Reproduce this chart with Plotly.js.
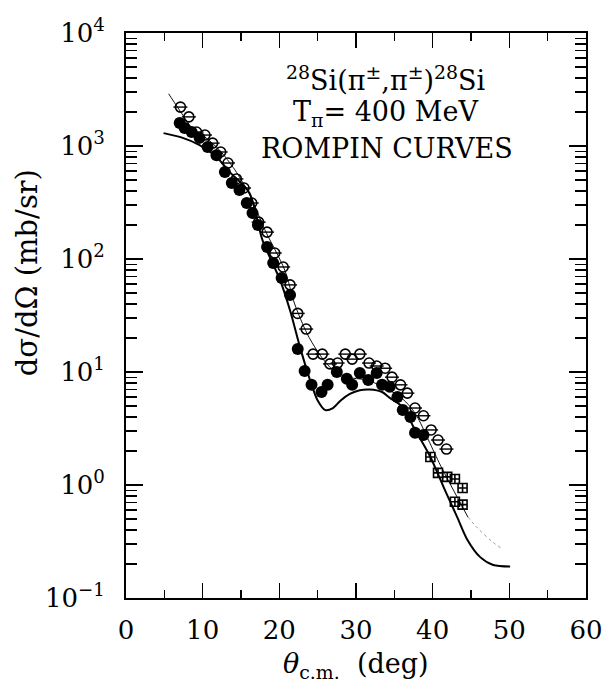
<!DOCTYPE html>
<html>
<head>
<meta charset="utf-8">
<script src="https://cdn.plot.ly/plotly-3.0.1.min.js"></script>
<style>html,body{margin:0;padding:0;background:#fff;}</style>
</head>
<body>
<div id="chart" style="width:608px;height:692px;"></div>
<script>
// Filled circles
const filledX = [7.0, 7.65, 8.56, 9.6, 10.65, 11.8, 12.9, 13.8, 14.8, 15.75, 16.5, 17.2, 18.4, 19.2, 20.3, 21.4, 22.4, 23.3, 24.2, 25.5, 26.3, 27.5, 28.8, 29.5, 30.5, 31.6, 32.7, 33.4, 34.4, 35.4, 36.1, 37.1, 37.7, 38.8];
const filledY = [1600, 1440, 1330, 1180, 980, 830, 590, 471, 408, 313, 255, 200, 128, 92, 68, 48, 16, 10.2, 7.7, 6.65, 7.7, 10, 8.7, 7.7, 9.8, 8.5, 9.8, 7.7, 7.4, 6.0, 4.6, 4.0, 2.9, 2.77];
// Open circles
const openX = [7.1, 8.2, 9.2, 10.3, 11.3, 12.35, 13.3, 14.4, 15.4, 16.4, 17.3, 18.4, 19.4, 20.5, 21.4, 22.4, 23.5, 24.4, 25.6, 26.6, 27.6, 28.6, 29.5, 30.5, 31.7, 32.7, 33.8, 34.7, 35.8, 36.7, 37.7, 38.8, 39.8, 40.7, 41.8];
const openY = [2210, 1810, 1330, 1250, 1060, 885, 707, 511, 425, 313, 212, 173, 113, 85, 59, 33, 24, 14.4, 14.4, 11.8, 12.0, 14.4, 13.0, 14.4, 12.0, 11.3, 10.8, 9.0, 7.7, 6.5, 4.8, 4.1, 3.07, 2.5, 2.08];
// Squares
const squareX = [39.7, 40.7, 41.9, 42.9, 43.9, 42.9, 43.9];
const squareY = [1.77, 1.28, 1.18, 1.13, 0.94, 0.71, 0.67];
// Solid (thick) ROMPIN curve
const solidX = [4.9, 7.4, 9.6, 11.8, 13.5, 16.1, 17.8, 20.1, 21.4, 22.7, 24.0, 25.0, 26.0, 27.0, 28.0, 29.2, 30.5, 31.8, 33.4, 34.4, 36.1, 37.5, 39.7, 41.6, 43.2, 44.5, 46.2, 47.9, 50.1];
const solidY = [1300, 1180, 1020, 800, 590, 384, 147, 65, 35, 16.6, 8.5, 5.6, 4.6, 4.8, 5.6, 6.4, 6.9, 7.0, 6.65, 5.9, 4.9, 3.26, 1.77, 0.90, 0.52, 0.33, 0.23, 0.196, 0.19];
// Thin ROMPIN curve
const thinX = [5.56, 6.1, 7.25, 8.6, 10.3, 12.2, 14.2, 16.1, 18.1, 20.7, 22.0, 23.6, 24.9, 25.7, 27.0, 28.8, 31.4, 33.5, 35.8, 37.1, 38.0, 41.0, 44.6];
const thinY = [2900, 2550, 1950, 1450, 1200, 920, 615, 375, 182, 80, 40, 22, 15.5, 13.0, 10.4, 9.0, 8.5, 7.4, 6.0, 4.9, 4.0, 1.5, 0.52];
const thinTailX = [44.6, 45.8, 47.9, 49.2];
const thinTailY = [0.52, 0.42, 0.31, 0.27];
// Axis ticks
const yTickVals = [0.1, 1, 10, 100, 1000, 10000];
const yTickText = ['10<sup>−1</sup>', '10<sup>0</sup>', '10<sup>1</sup>', '10<sup>2</sup>', '10<sup>3</sup>', '10<sup>4</sup>'];
const xTickVals = [0, 10, 20, 30, 40, 50, 60];

const FONT = 'DejaVu Serif, Liberation Serif, serif';

const traces = [
  {x: thinX, y: thinY, mode: 'lines', line: {color: '#111', width: 1, shape: 'spline', smoothing: 0.8}, hoverinfo: 'skip'},
  {x: thinTailX, y: thinTailY, mode: 'lines', line: {color: '#999', width: 1, dash: 'dot', shape: 'spline'}, hoverinfo: 'skip'},
  {x: solidX, y: solidY, mode: 'lines', line: {color: '#000', width: 2, shape: 'spline', smoothing: 0.8}, hoverinfo: 'skip'},
  {x: squareX, y: squareY, mode: 'markers', marker: {symbol: 'square-cross-open', size: 9, color: '#000', line: {width: 1.6, color: '#000'}}},
  {x: openX, y: openY, mode: 'markers', marker: {symbol: 'circle-open', size: 10, color: '#000', line: {width: 1.6, color: '#000'}}},
  {x: openX, y: openY, mode: 'markers', marker: {symbol: 'line-ew', size: 10, color: '#000', line: {width: 1.4, color: '#000'}}},
  {x: filledX, y: filledY, mode: 'markers', marker: {symbol: 'circle', size: 12, color: '#000'}}
];

const layout = {
  width: 608, height: 692,
  margin: {l: 126, r: 22, t: 33, b: 94},
  paper_bgcolor: '#fff', plot_bgcolor: '#fff',
  showlegend: false,
  font: {family: FONT, size: 26, color: '#000'},
  xaxis: {
    range: [0, 60], tickmode: 'array', tickvals: xTickVals,
    ticks: 'inside', ticklen: 15, tickwidth: 1.5, tickcolor: '#000',
    minor: {dtick: 5, ticks: 'inside', ticklen: 8, tickwidth: 1.2, tickcolor: '#000', showgrid: false},
    showline: true, linewidth: 2, linecolor: '#000', mirror: 'ticks',
    showgrid: false, zeroline: false,
    tickfont: {family: FONT, size: 26, color: '#000'},
    ticklabelstandoff: 8
  },
  yaxis: {
    type: 'log', range: [-1, 4], tickmode: 'array', tickvals: yTickVals, ticktext: yTickText,
    ticks: 'inside', ticklen: 17, tickwidth: 1.5, tickcolor: '#000',
    minor: {dtick: 'D1', ticks: 'inside', ticklen: 11, tickwidth: 1.2, tickcolor: '#000', showgrid: false},
    showline: true, linewidth: 2, linecolor: '#000', mirror: 'ticks',
    showgrid: false, zeroline: false,
    tickfont: {family: FONT, size: 26, color: '#000'},
    ticklabelstandoff: 14
  },
  annotations: [
    {xref: 'paper', yref: 'paper', x: -0.215, y: 0.575, xanchor: 'center', yanchor: 'middle', textangle: -90, showarrow: false,
     text: 'dσ/dΩ (mb/sr)', font: {family: FONT, size: 29, color: '#000'}},
    {xref: 'paper', yref: 'paper', x: 0.5, y: -0.12, xanchor: 'center', yanchor: 'middle', showarrow: false,
     text: '<i>θ</i><sub>c.m.</sub>  (deg)', font: {family: FONT, size: 27, color: '#000'}},
    {xref: 'paper', yref: 'paper', x: 0.565, y: 0.920, xanchor: 'center', yanchor: 'middle', showarrow: false,
     text: '<sup>28</sup>Si(π<sup>±</sup>,π<sup>±</sup>)<sup>28</sup>Si', font: {family: FONT, size: 27, color: '#000'}},
    {xref: 'paper', yref: 'paper', x: 0.565, y: 0.858, xanchor: 'center', yanchor: 'middle', showarrow: false,
     text: 'T<sub>π</sub>= 400 MeV', font: {family: FONT, size: 27, color: '#000'}},
    {xref: 'paper', yref: 'paper', x: 0.568, y: 0.796, xanchor: 'center', yanchor: 'middle', showarrow: false,
     text: 'ROMPIN CURVES', font: {family: FONT, size: 27, color: '#000'}}
  ]
};

Plotly.newPlot('chart', traces, layout, {displayModeBar: false, staticPlot: true});
</script>
</body>
</html>
